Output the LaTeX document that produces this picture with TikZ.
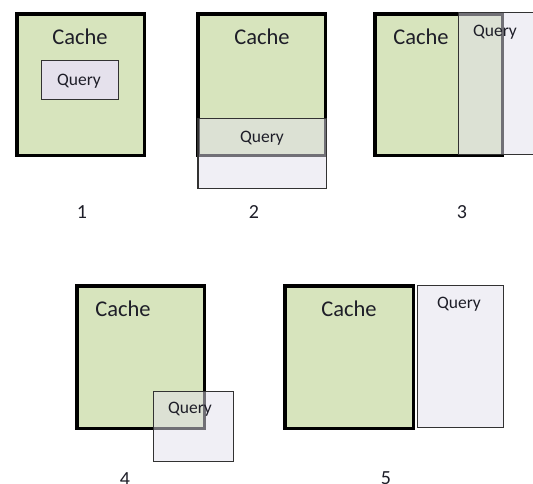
\documentclass[tikz,border=0pt]{standalone}
\usepackage{fontspec}
\setmainfont{Carlito}
\definecolor{cachefill}{RGB}{215,228,189}
\definecolor{qfill}{RGB}{226,224,236}
\definecolor{qsolid}{RGB}{229,225,236}
\definecolor{qborder}{RGB}{50,50,50}
\definecolor{txt}{RGB}{30,30,40}
\tikzset{
  cachebox/.style={fill=cachefill, draw=black, line width=3.5pt},
  querybox/.style={fill=qfill, fill opacity=0.5, draw=qborder, draw opacity=1, line width=1.3pt},
  querysolid/.style={fill=qsolid, draw=qborder, line width=1.3pt},
  cachelbl/.style={anchor=base, inner sep=0pt, text=txt, font=\fontsize{22.5}{27}\selectfont},
  querylbl/.style={anchor=base, inner sep=0pt, text=txt, font=\fontsize{17.5}{21}\selectfont},
  numlbl/.style={anchor=base, inner sep=0pt, text=txt, font=\fontsize{20}{24}\selectfont},
}
\begin{document}
\begin{tikzpicture}[x=1pt,y=-1pt]
\useasboundingbox (0,0) rectangle (533,483);
% Panel 1
\draw[cachebox] (16.75,13.75) rectangle (144.25,155.25);
\draw[querysolid] (41.5,60.5) rectangle (118.5,99.5);
\node[cachelbl] (c1) at (80,44) {Cache};
\node[querylbl] (q1) at (79,85) {Query};
\node[numlbl] (n1) at (82,218) {1};
% Panel 2
\draw[cachebox] (197.75,13.75) rectangle (325.25,155.25);
\draw[querybox] (197.9,118.6) rectangle (326.4,188.4);
\node[cachelbl] (c2) at (262,44) {Cache};
\node[querylbl] (q2) at (262,142) {Query};
\node[numlbl] (n2) at (254,218) {2};
% Panel 3
\draw[cachebox] (374.75,13.75) rectangle (502.25,155.25);
\draw[querybox] (458.6,12.6) rectangle (560,154.4);
\node[cachelbl] (c3) at (421,44) {Cache};
\node[querylbl] (q3) at (495,36) {Query};
\node[numlbl] (n3) at (462,218) {3};
% Panel 4
\draw[cachebox] (76.75,285.75) rectangle (204.25,428.25);
\draw[querybox] (153.6,391.6) rectangle (233.4,461.4);
\node[cachelbl] (c4) at (123,316) {Cache};
\node[querylbl] (q4) at (190,413) {Query};
\node[numlbl] (n4) at (125,485) {4};
% Panel 5
\draw[cachebox] (284.75,285.75) rectangle (413.25,428.25);
\draw[querybox] (417.6,285.6) rectangle (503.4,427.4);
\node[cachelbl] (c5) at (349,316) {Cache};
\node[querylbl] (q5) at (459,308) {Query};
\node[numlbl] (n5) at (386,484) {5};
\end{tikzpicture}
\end{document}
